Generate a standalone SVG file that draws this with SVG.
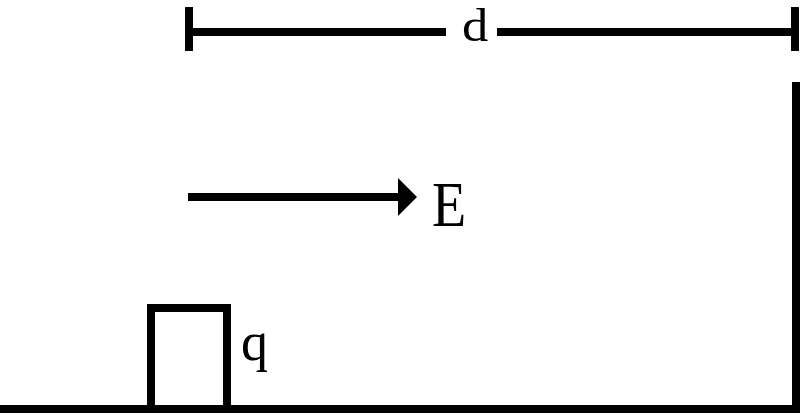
<svg xmlns="http://www.w3.org/2000/svg" width="800" height="414" viewBox="0 0 800 414">
<style>
.ln{stroke:#000;stroke-width:8;fill:none}
.lbl{font-family:"Liberation Serif","Times New Roman",serif;font-size:54px;fill:#000}
</style>
<rect width="800" height="414" fill="#fff"/>
<g id="connectors">
<path id="dim" class="ln" d="M189 32H446M497 32H795M189 7V51M795 7V51"/>
<path id="field" class="ln" d="M188 197H400"/>
<polygon points="398,178 417,197 398,216" fill="#000"/>
</g>
<g id="ground"><path class="ln" d="M0 409H800M796 82V413"/></g>
<g id="charge"><path class="ln" stroke-width="9" d="M151 409V308H227V409"/></g>
<g id="label-d"><text class="lbl" transform="translate(462,41) scale(1.12,1)" x="0" y="0" style="font-size:47px">d</text></g>
<g id="label-E"><text class="lbl" transform="translate(432,226) scale(1,1.12)" x="0" y="0" style="font-size:56px">E</text></g>
<g id="label-q"><text class="lbl" x="241" y="360">q</text></g>
</svg>
